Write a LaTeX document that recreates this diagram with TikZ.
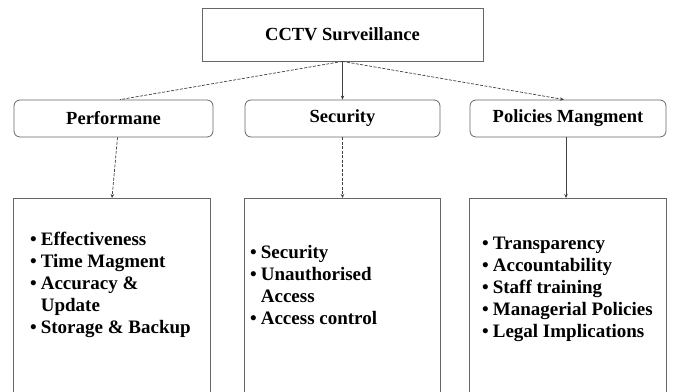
\documentclass[tikz,border=0pt]{standalone}
\usepackage{fontspec}
\setmainfont{Liberation Serif}
\usetikzlibrary{arrows.meta,calc}
\begin{document}
\begin{tikzpicture}[x=1pt,y=-1pt,
  boxline/.style={draw=black!60, line width=0.8pt},
  topbox/.style={boxline, minimum width=281pt, minimum height=53pt, inner sep=0pt, font=\fontsize{18.5}{21}\selectfont\bfseries},
  midbox/.style={boxline, rounded corners=6pt, minimum height=37pt, inner sep=0pt, font=\fontsize{18.5}{21}\selectfont\bfseries},
  listbox/.style={minimum height=196pt, inner sep=0pt, anchor=north},
  item/.style={anchor=base west, inner sep=0pt, font=\fontsize{19}{22}\selectfont\bfseries},
  conn/.style={draw=black!75, line width=0.7pt},
  tip/.style={-{Stealth[length=4pt,width=3.5pt]}},
  dsh/.style={dash pattern=on 3pt off 1.5pt},
]
\useasboundingbox (0,0) rectangle (677,391);

% top and middle boxes
\node[topbox] (top) at (342.5,34.5) {CCTV Surveillance};
\node[midbox, minimum width=199pt] (perf) at (113.5,118.5) {Performane};
\node[midbox, minimum width=195pt] (sec) at (342.5,118.5) {Security};
\node[midbox, minimum width=196pt] (pol) at (568,118.5) {Policies Mangment};

% bottom boxes (open at the bottom edge of the picture)
\node[listbox, minimum width=196pt] (b1) at (112,198) {};
\node[listbox, minimum width=195pt] (b2) at (342.5,198) {};
\node[listbox, minimum width=196pt] (b3) at (568,198) {};
\draw[boxline] (b1.south west) -- (b1.north west) -- (b1.north east) -- (b1.south east);
\draw[boxline] (b2.south west) -- (b2.north west) -- (b2.north east) -- (b2.south east);
\draw[boxline] (b3.south west) -- (b3.north west) -- (b3.north east) -- (b3.south east);

% connectors
\draw[conn,dsh] (top.south) -- ($(perf.north)+(6.5,0)$);
\draw[conn,tip] (top.south) -- (sec.north);
\draw[conn,dsh,tip] (top.south) -- ($(pol.north)+(-4,0)$);
\draw[conn,dsh,tip] ($(perf.south)+(4,0)$) -- ($(b1.north)+(0,0)$);
\draw[conn,dsh,tip] (sec.south) -- (b2.north);
\draw[conn,tip] ($(pol.south)+(-2,0)$) -- ($(b3.north)+(-2,0)$);

% list texts
\node[item] (p1) at (30,245) {\textbullet\hspace{4pt}Effectiveness};
\node[item] (p2) at (30,267) {\textbullet\hspace{4pt}Time Magment};
\node[item] (p3) at (30,289) {\textbullet\hspace{4pt}Accuracy \&};
\node[item] (p4) at (30,311) {\hphantom{\textbullet\hspace{4pt}}Update};
\node[item] (p5) at (30,333) {\textbullet\hspace{4pt}Storage \& Backup};

\node[item] (s1) at (250,258) {\textbullet\hspace{4pt}Security};
\node[item] (s2) at (250,280) {\textbullet\hspace{4pt}Unauthorised};
\node[item] (s3) at (250,302) {\hphantom{\textbullet\hspace{4pt}}Access};
\node[item] (s4) at (250,324) {\textbullet\hspace{4pt}Access control};

\node[item] (q1) at (482,249) {\textbullet\hspace{4pt}Transparency};
\node[item] (q2) at (482,271.2) {\textbullet\hspace{4pt}Accountability};
\node[item] (q3) at (482,293.4) {\textbullet\hspace{4pt}Staff training};
\node[item] (q4) at (482,315.6) {\textbullet\hspace{4pt}Managerial Policies};
\node[item] (q5) at (482,337.8) {\textbullet\hspace{4pt}Legal Implications};
\end{tikzpicture}
\end{document}
